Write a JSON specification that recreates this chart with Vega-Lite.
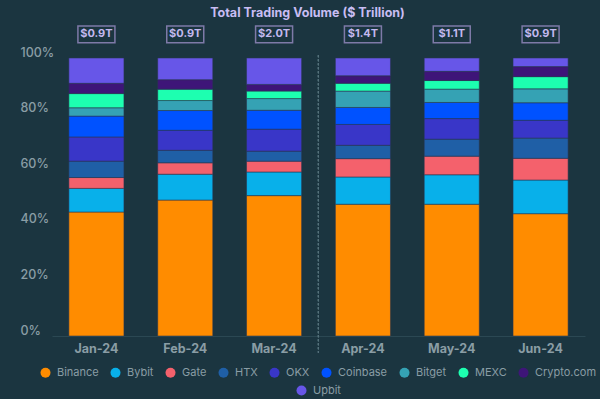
{
  "$schema": "https://vega.github.io/schema/vega-lite/v6.json",
  "width": 533,
  "height": 278,
  "autosize": {"type": "none"},
  "padding": {"left": 52, "top": 58, "right": 15, "bottom": 63},
  "background": "#1b3540",
  "title": {
    "text": "Total Trading Volume ($ Trillion)",
    "font": "Inter",
    "fontSize": 12.5,
    "fontWeight": "bold",
    "color": "#c8bdf3",
    "anchor": "middle",
    "dx": -11,
    "offset": 4
  },
  "config": {
    "view": {"stroke": null},
    "font": "Inter",
    "legend": {
      "layout": {"bottom": {"anchor": "middle", "direction": "vertical", "center": true, "margin": 7}}
    }
  },
  "datasets": {
    "shares": [
      {"month": "Jan-24", "exchange": "Binance", "share": 44.6},
      {"month": "Jan-24", "exchange": "Bybit", "share": 8.5},
      {"month": "Jan-24", "exchange": "Gate", "share": 3.9},
      {"month": "Jan-24", "exchange": "HTX", "share": 5.9},
      {"month": "Jan-24", "exchange": "OKX", "share": 8.7},
      {"month": "Jan-24", "exchange": "Coinbase", "share": 7.5},
      {"month": "Jan-24", "exchange": "Bitget", "share": 3.0},
      {"month": "Jan-24", "exchange": "MEXC", "share": 5.1},
      {"month": "Jan-24", "exchange": "Crypto.com", "share": 3.7},
      {"month": "Jan-24", "exchange": "Upbit", "share": 9.1},
      {"month": "Feb-24", "exchange": "Binance", "share": 48.9},
      {"month": "Feb-24", "exchange": "Bybit", "share": 9.3},
      {"month": "Feb-24", "exchange": "Gate", "share": 4.1},
      {"month": "Feb-24", "exchange": "HTX", "share": 4.5},
      {"month": "Feb-24", "exchange": "OKX", "share": 7.2},
      {"month": "Feb-24", "exchange": "Coinbase", "share": 7.1},
      {"month": "Feb-24", "exchange": "Bitget", "share": 3.6},
      {"month": "Feb-24", "exchange": "MEXC", "share": 4.1},
      {"month": "Feb-24", "exchange": "Crypto.com", "share": 3.4},
      {"month": "Feb-24", "exchange": "Upbit", "share": 7.8},
      {"month": "Mar-24", "exchange": "Binance", "share": 50.5},
      {"month": "Mar-24", "exchange": "Bybit", "share": 8.5},
      {"month": "Mar-24", "exchange": "Gate", "share": 3.9},
      {"month": "Mar-24", "exchange": "HTX", "share": 3.6},
      {"month": "Mar-24", "exchange": "OKX", "share": 7.9},
      {"month": "Mar-24", "exchange": "Coinbase", "share": 6.8},
      {"month": "Mar-24", "exchange": "Bitget", "share": 4.2},
      {"month": "Mar-24", "exchange": "MEXC", "share": 2.7},
      {"month": "Mar-24", "exchange": "Crypto.com", "share": 2.4},
      {"month": "Mar-24", "exchange": "Upbit", "share": 9.5},
      {"month": "Apr-24", "exchange": "Binance", "share": 47.4},
      {"month": "Apr-24", "exchange": "Bybit", "share": 9.8},
      {"month": "Apr-24", "exchange": "Gate", "share": 6.6},
      {"month": "Apr-24", "exchange": "HTX", "share": 4.8},
      {"month": "Apr-24", "exchange": "OKX", "share": 7.5},
      {"month": "Apr-24", "exchange": "Coinbase", "share": 6.1},
      {"month": "Apr-24", "exchange": "Bitget", "share": 5.9},
      {"month": "Apr-24", "exchange": "MEXC", "share": 2.8},
      {"month": "Apr-24", "exchange": "Crypto.com", "share": 2.7},
      {"month": "Apr-24", "exchange": "Upbit", "share": 6.4},
      {"month": "May-24", "exchange": "Binance", "share": 47.4},
      {"month": "May-24", "exchange": "Bybit", "share": 10.6},
      {"month": "May-24", "exchange": "Gate", "share": 6.7},
      {"month": "May-24", "exchange": "HTX", "share": 6.1},
      {"month": "May-24", "exchange": "OKX", "share": 7.4},
      {"month": "May-24", "exchange": "Coinbase", "share": 5.8},
      {"month": "May-24", "exchange": "Bitget", "share": 4.8},
      {"month": "May-24", "exchange": "MEXC", "share": 3.1},
      {"month": "May-24", "exchange": "Crypto.com", "share": 3.3},
      {"month": "May-24", "exchange": "Upbit", "share": 4.8},
      {"month": "Jun-24", "exchange": "Binance", "share": 44.0},
      {"month": "Jun-24", "exchange": "Bybit", "share": 12.1},
      {"month": "Jun-24", "exchange": "Gate", "share": 7.8},
      {"month": "Jun-24", "exchange": "HTX", "share": 7.3},
      {"month": "Jun-24", "exchange": "OKX", "share": 6.4},
      {"month": "Jun-24", "exchange": "Coinbase", "share": 6.3},
      {"month": "Jun-24", "exchange": "Bitget", "share": 5.0},
      {"month": "Jun-24", "exchange": "MEXC", "share": 4.4},
      {"month": "Jun-24", "exchange": "Crypto.com", "share": 3.6},
      {"month": "Jun-24", "exchange": "Upbit", "share": 3.1}
    ],
    "totals": [
      {"month": "Jan-24", "total": 0.9, "label": "$0.9T"},
      {"month": "Feb-24", "total": 0.9, "label": "$0.9T"},
      {"month": "Mar-24", "total": 2.0, "label": "$2.0T"},
      {"month": "Apr-24", "total": 1.4, "label": "$1.4T"},
      {"month": "May-24", "total": 1.1, "label": "$1.1T"},
      {"month": "Jun-24", "total": 0.9, "label": "$0.9T"}
    ]
  },
  "encoding": {
    "x": {
      "field": "month",
      "type": "nominal",
      "sort": ["Jan-24", "Feb-24", "Mar-24", "Apr-24", "May-24", "Jun-24"],
      "scale": {"paddingInner": 0.38, "paddingOuter": 0.19},
      "axis": {
        "title": null,
        "labelAngle": 0,
        "ticks": false,
        "domain": true,
        "domainColor": "#2b4853",
        "labelColor": "#8a9da5",
        "labelFont": "Inter",
        "labelFontSize": 12.5,
        "labelFontWeight": "bold",
        "labelPadding": 6
      }
    }
  },
  "layer": [
    {
      "data": {"name": "shares"},
      "mark": {"type": "bar", "stroke": "#2a3550", "strokeWidth": 0.8, "strokeOpacity": 0.7},
      "encoding": {
        "y": {
          "field": "share",
          "type": "quantitative",
          "stack": "zero",
          "scale": {"domain": [0, 100], "nice": false},
          "axis": {
            "title": null,
            "grid": false,
            "domain": false,
            "ticks": false,
            "values": [0, 20, 40, 60, 80, 100],
            "labelExpr": "datum.value + '%'",
            "labelAlign": "left",
            "labelPadding": 32,
            "labelBaseline": "alphabetic",
            "labelOffset": -2,
            "labelFlush": false,
            "labelColor": "#8a9da5",
            "labelFont": "Inter",
            "labelFontSize": 12.5,
            "labelFontWeight": 500
          }
        },
        "color": {
          "field": "exchange",
          "type": "nominal",
          "sort": ["Binance", "Bybit", "Gate", "HTX", "OKX", "Coinbase", "Bitget", "MEXC", "Crypto.com", "Upbit"],
          "scale": {
            "domain": ["Binance", "Bybit", "Gate", "HTX", "OKX", "Coinbase", "Bitget", "MEXC", "Crypto.com", "Upbit"],
            "range": ["#ff8c00", "#08b0ea", "#f4616c", "#1f5fa6", "#3936c8", "#0052ff", "#35a2b4", "#1dffb0", "#3e1578", "#6756e8"]
          },
          "legend": {
            "title": null,
            "orient": "bottom",
            "direction": "horizontal",
            "values": ["Binance", "Bybit", "Gate", "HTX", "OKX", "Coinbase", "Bitget", "MEXC", "Crypto.com"],
            "symbolType": "circle",
            "symbolSize": 100,
            "symbolStrokeWidth": 0,
            "labelColor": "#8a9da5",
            "labelFont": "Inter",
            "labelFontSize": 11,
            "labelOffset": 6,
            "columnPadding": 11,
            "offset": 12
          }
        },
        "order": {"field": "stack_position", "type": "quantitative"}
      }
    },
    {
      "data": {"name": "shares"},
      "transform": [{"filter": "datum.exchange === 'Upbit'"}],
      "mark": {"type": "point", "size": 0, "filled": true, "opacity": 0},
      "encoding": {
        "y": {"field": "share", "type": "quantitative"},
        "fill": {
          "field": "exchange",
          "type": "nominal",
          "scale": {"domain": ["Upbit"], "range": ["#6756e8"]},
          "legend": {
            "title": null,
            "orient": "bottom",
            "symbolType": "circle",
            "symbolSize": 100,
            "symbolOpacity": 1,
            "symbolStrokeWidth": 0,
            "labelColor": "#8a9da5",
            "labelFont": "Inter",
            "labelFontSize": 11,
            "labelOffset": 6,
            "offset": 12
          }
        }
      }
    },
    {
      "data": {"name": "totals"},
      "mark": {"type": "rule", "strokeDash": [2, 2], "color": "#56717c", "strokeWidth": 1, "xOffset": -17},
      "encoding": {
        "x": {"datum": "Apr-24", "bandPosition": 0},
        "y": {"datum": 101},
        "y2": {"datum": -6}
      }
    },
    {
      "data": {"name": "totals"},
      "mark": {
        "type": "point",
        "shape": "M-1,-0.45H1V0.45H-1Z",
        "size": 1369,
        "filled": false,
        "stroke": "#7e7aa8",
        "strokeWidth": 1.5,
        "opacity": 1
      },
      "encoding": {
        "y": {"datum": 108.5}
      }
    },
    {
      "data": {"name": "totals"},
      "mark": {
        "type": "text",
        "font": "Inter",
        "fontSize": 11,
        "fontWeight": "bold",
        "color": "#c3b9ef",
        "baseline": "middle",
        "align": "center"
      },
      "encoding": {
        "y": {"datum": 108.5},
        "text": {"field": "label"}
      }
    }
  ]
}
